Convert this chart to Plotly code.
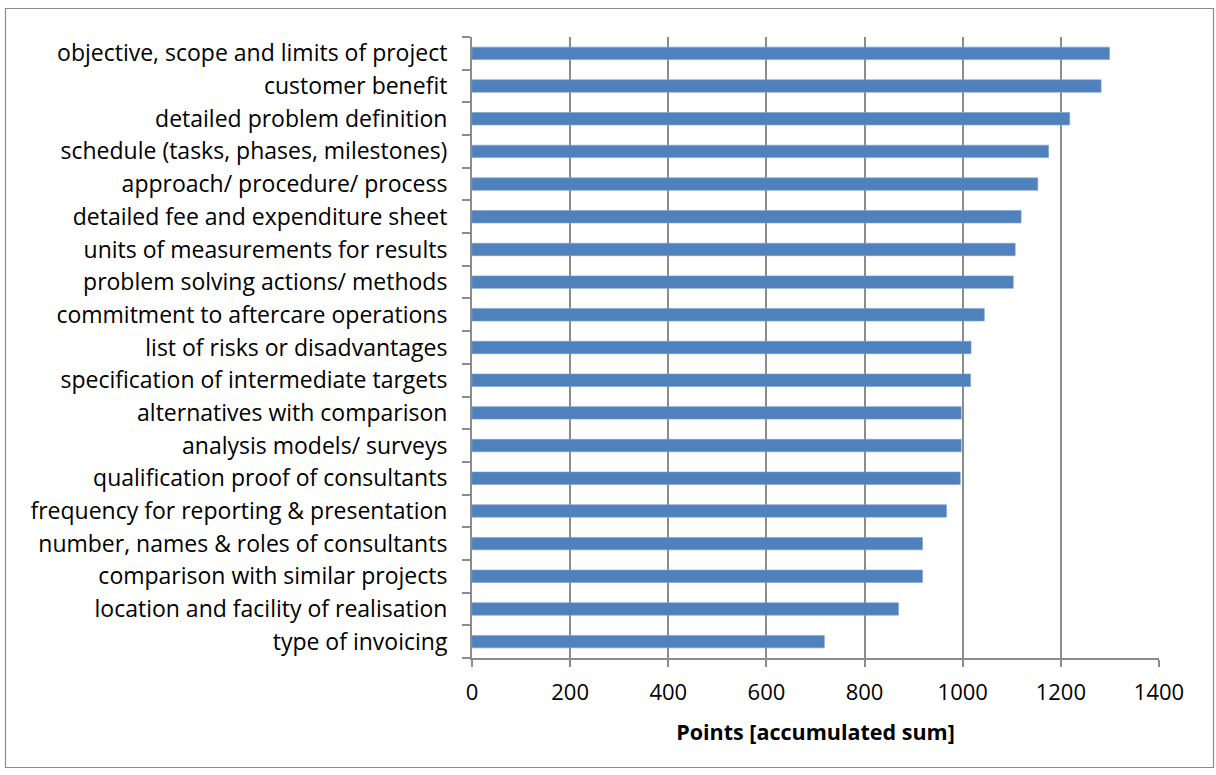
import plotly.graph_objects as go

# Criteria, listed from top to bottom as displayed
categories = [
    "objective, scope and limits of project",
    "customer benefit",
    "detailed problem definition",
    "schedule (tasks, phases, milestones)",
    "approach/ procedure/ process",
    "detailed fee and expenditure sheet",
    "units of measurements for results",
    "problem solving actions/ methods",
    "commitment to aftercare operations",
    "list of risks or disadvantages",
    "specification of intermediate targets",
    "alternatives with comparison",
    "analysis models/ surveys",
    "qualification proof of consultants",
    "frequency for reporting & presentation",
    "number, names & roles of consultants",
    "comparison with similar projects",
    "location and facility of realisation",
    "type of invoicing",
]
points = [1299, 1282, 1218, 1175, 1153, 1119, 1107, 1103, 1044, 1017,
          1016, 997, 997, 995, 967, 918, 918, 869, 718]
x_ticks = [0, 200, 400, 600, 800, 1000, 1200, 1400]

W, H = 1216, 775
ML, MR, MT, MB = 472, 57, 37, 117

fig = go.Figure(
    go.Bar(
        y=categories,
        x=points,
        orientation="h",
        marker=dict(color="#4F81BD", line=dict(color="#7A9FD0", width=0.6)),
        width=0.38,
    )
)

grid = "#8C8C8C"
font_family = "'Open Sans', Lato, sans-serif"

fig.update_layout(
    width=W,
    height=H,
    margin=dict(l=ML, r=MR, t=MT, b=MB),
    paper_bgcolor="white",
    plot_bgcolor="white",
    showlegend=False,
    font=dict(family=font_family, size=20, color="#000000"),
    xaxis=dict(
        range=[0, 1400],
        tickvals=x_ticks,
        ticktext=[str(v) for v in x_ticks],
        showgrid=True,
        gridcolor=grid,
        gridwidth=2,
        zeroline=False,
        showline=True,
        linecolor=grid,
        linewidth=2,
        ticks="outside",
        ticklen=7,
        tickcolor=grid,
        tickwidth=2,
        ticklabelstandoff=7,
        tickfont=dict(size=22),
        title=dict(
            text="<b>Points [accumulated sum]</b>",
            font=dict(size=21.5),
            standoff=20,
        ),
    ),
    yaxis=dict(
        categoryorder="array",
        categoryarray=categories[::-1],
        showgrid=False,
        showline=True,
        linecolor=grid,
        linewidth=2,
        ticks="outside",
        tickson="boundaries",
        ticklen=8,
        tickcolor=grid,
        tickwidth=2,
        ticklabelstandoff=18,
        tickfont=dict(size=23),
    ),
)

# Outer chart border
pw, ph = W - ML - MR, H - MT - MB
def px_x(p):
    return (p - ML) / pw
def px_y(p):
    return (H - MB - p) / ph

fig.add_shape(
    type="rect", xref="paper", yref="paper",
    x0=px_x(5.5), x1=px_x(1213.5), y0=px_y(767.5), y1=px_y(8.5),
    line=dict(color="#8C8C8C", width=1.2), layer="below",
)

fig.write_html("out.html")
